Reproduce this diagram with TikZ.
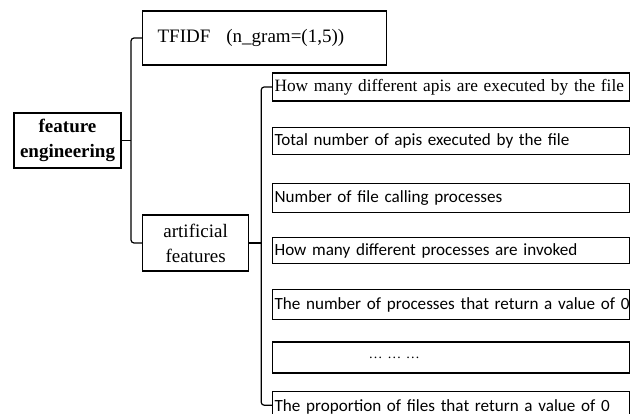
\documentclass[tikz,border=0pt]{standalone}
\usepackage{fontspec}
\setmainfont{Liberation Serif}
\newfontfamily\calibri{Carlito}
\usetikzlibrary{positioning}

\begin{document}
\begin{tikzpicture}[x=1pt,y=-1pt,
    line width=1.2pt,
    node distance=25pt,
    serif/.style={font=\fontsize{19}{25}\selectfont},
    leaf/.style={draw,
        minimum height=28pt,
        text width=353pt,
        inner xsep=2pt,
        inner ysep=0pt,
        align=left,
        font=\calibri\fontsize{17.1}{20}\selectfont},
    branch/.style={rounded corners=3pt}
]
\useasboundingbox (0,0) rectangle (642,414);

\node[draw,
    serif,
    font=\bfseries\fontsize{19}{25}\selectfont,
    minimum width=107pt,
    minimum height=55pt,
    inner sep=1pt,
    align=center
] (root) at (67.5,140.5) {feature\\engineering};

\node[draw,
    serif,
    anchor=west,
    minimum height=54pt,
    text width=214pt,
    inner xsep=15pt,
    align=left
] (tfidf) at (142,38) {TFIDF\hspace{16pt}(n\_gram=(1,5))};

\node[draw,
    serif,
    anchor=west,
    minimum width=106pt,
    minimum height=56pt,
    inner sep=1pt,
    align=center
] (artif) at (142,243) {artificial\\features};

\node[leaf,
    anchor=west,
    font=\fontsize{17.3}{20}\selectfont
] (leaf1) at (272,87) {\mbox{How many different apis are executed by the file}};

\node[leaf, below=25pt of leaf1, minimum height=27pt] (leaf2) {\mbox{Total number of apis executed by the file}};
\node[leaf, below=28pt of leaf2, minimum height=29pt] (leaf3) {\mbox{Number of file calling processes}};
\node[leaf, below=24pt of leaf3, minimum height=26pt] (leaf4) {\mbox{How many different processes are invoked}};
\node[leaf, below=25pt of leaf4, minimum height=30pt] (leaf5) {\mbox{The number of processes that return a value of 0}};
\node[leaf,
    below=21pt of leaf5,
    minimum height=31pt,
    font=\fontsize{14}{18}\selectfont
] (leaf6) {\hspace*{94pt}\dots\ \dots\ \dots};
\node[leaf, below=17pt of leaf6, minimum height=32pt] (leaf7) {\mbox{The proportion of files that return a value of 0}};

\coordinate (b1) at (131,140.5);
\coordinate (b2) at ([xshift=12pt]artif.east);

\draw (root.east) -- (b1);
\draw[branch] (tfidf.west) -| (b1) |- (artif.west);

\draw (artif.east) -- (b2);
\draw[branch] (leaf1.west) -| (b2) |- ([yshift=2pt]leaf7.west);

\end{tikzpicture}
\end{document}
